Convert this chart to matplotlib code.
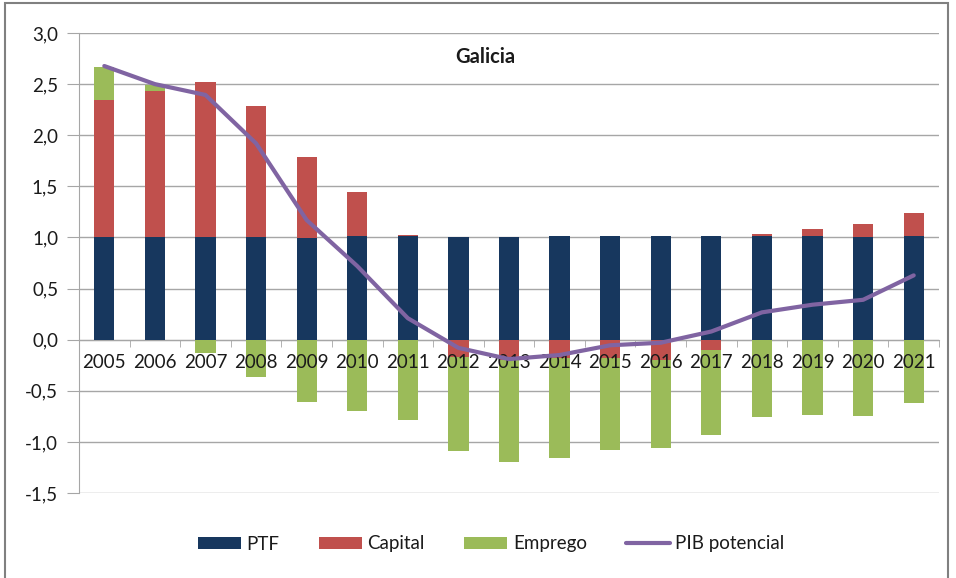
import numpy as np
import matplotlib
matplotlib.use("Agg")
import matplotlib.pyplot as plt
from matplotlib.patches import Rectangle
from matplotlib.ticker import FuncFormatter

# data
years = [str(y) for y in range(2005, 2022)]
ptf = [1.00, 1.00, 1.00, 1.00, 0.99, 1.016, 1.01, 1.00, 1.00, 1.016, 1.016, 1.016, 1.016, 1.016, 1.016, 1.003, 1.016]
capital = [1.345, 1.43, 1.52, 1.29, 0.80, 0.424, 0.01, -0.17, -0.20, -0.18, -0.18, -0.20, -0.10, 0.016, 0.065, 0.127, 0.222]
emprego = [0.32, 0.065, -0.13, -0.37, -0.605, -0.693, -0.79, -0.915, -1.00, -0.98, -0.895, -0.86, -0.835, -0.76, -0.733, -0.746, -0.619]
pib = [2.677, 2.50, 2.394, 1.92, 1.17, 0.72, 0.21, -0.08, -0.19, -0.15, -0.055, -0.03, 0.08, 0.267, 0.342, 0.39, 0.629]
yticks = [-1.5, -1.0, -0.5, 0.0, 0.5, 1.0, 1.5, 2.0, 2.5, 3.0]

c_ptf = "#17375E"
c_cap = "#C0504D"
c_emp = "#9BBB59"
c_pib = "#8064A2"
grid_c = "#A6A6A6"
txt_c = "#1a1a1a"

plt.rcParams['font.family'] = ['Lato', 'DejaVu Sans']

fig = plt.figure(figsize=(9.56, 5.78), dpi=100)
ax = fig.add_axes([79 / 956, 1 - 493 / 578, 860 / 956, 460 / 578])

x = np.arange(len(years))
ptf = np.array(ptf)
capital = np.array(capital)
emprego = np.array(emprego)

# Excel style stacking: positives stack up, negatives stack down
pos_base = np.zeros(len(x))
neg_base = np.zeros(len(x))
w = 0.4
handles = []
for vals, col, lab in [(ptf, c_ptf, "PTF"), (capital, c_cap, "Capital"), (emprego, c_emp, "Emprego")]:
    base = np.where(vals >= 0, pos_base, neg_base)
    b = ax.bar(x, vals, w, bottom=base, color=col, label=lab, zorder=2, linewidth=0)
    handles.append(b)
    pos_base = pos_base + np.where(vals >= 0, vals, 0)
    neg_base = neg_base + np.where(vals < 0, vals, 0)

line, = ax.plot(x, pib, color=c_pib, lw=3.0, label="PIB potencial", zorder=4,
                solid_capstyle='round', solid_joinstyle='round')
handles.append(line)

# gridlines
for t in yticks:
    ax.axhline(t, color=grid_c, lw=1.0, zorder=0.5)

ax.set_xlim(-0.5, len(x) - 0.5)
ax.set_ylim(-1.5, 3.0)
ax.set_axisbelow(False)

ax.spines['top'].set_visible(False)
ax.spines['right'].set_visible(False)
ax.spines['bottom'].set_position(('data', 0))
ax.spines['bottom'].set_color(grid_c)
ax.spines['left'].set_color(grid_c)
ax.spines['bottom'].set_zorder(1)

ax.set_yticks(yticks)
ax.yaxis.set_major_formatter(FuncFormatter(lambda v, p: f"{v:.1f}".replace(".", ",")))
ax.tick_params(axis='y', length=9, color=grid_c, labelsize=13.5, labelcolor=txt_c, pad=6)

ax.set_xticks(x)
ax.set_xticklabels(years)
ax.set_xticks(np.arange(-0.5, len(x)), minor=True)
ax.tick_params(axis='x', which='major', length=0, labelsize=13.5, labelcolor=txt_c, pad=10)
ax.tick_params(axis='x', which='minor', length=5, color=grid_c)

fig.text(485 / 956, 1 - 57 / 578, "Galicia", ha='center', va='center',
         fontsize=14.5, fontweight='bold', color=txt_c)

leg = ax.legend(handles=handles, loc='center', bbox_to_anchor=(491 / 956, 1 - 544 / 578),
                bbox_transform=fig.transFigure, ncol=4, frameon=False,
                fontsize=13.5, handlelength=2.3, handleheight=0.6,
                handletextpad=0.3, columnspacing=2.1)
for t in leg.get_texts():
    t.set_color(txt_c)

# outer chart border
fig.patches.append(Rectangle((5 / 956, -0.02), 943 / 956, 1 - 3 / 578 + 0.02,
                             transform=fig.transFigure, fill=False,
                             edgecolor="#808080", lw=1.5))

fig.savefig("out.png", dpi=100)
